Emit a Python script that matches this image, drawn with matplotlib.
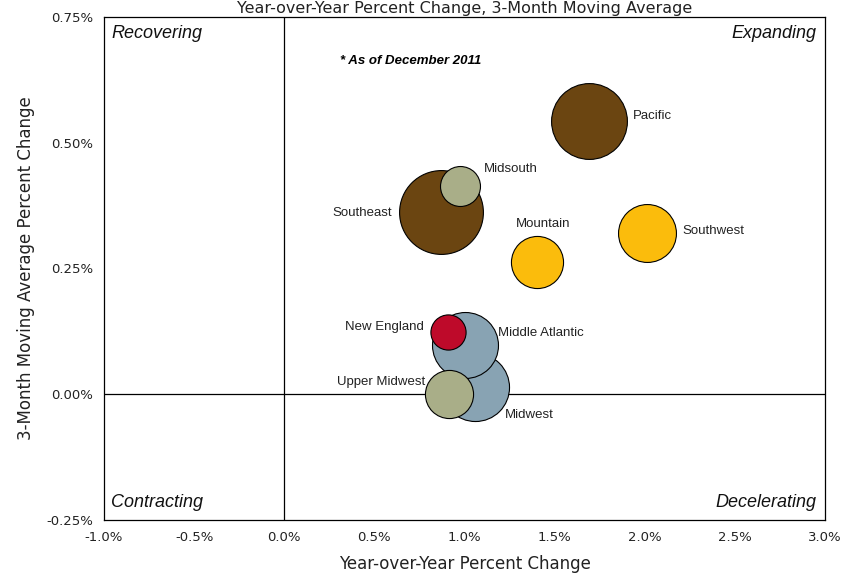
import matplotlib.pyplot as plt
from matplotlib.ticker import FuncFormatter

# regional data, as of December 2011
regions = ['Pacific', 'Southwest', 'Mountain', 'Southeast', 'Midsouth',
           'Middle Atlantic', 'Midwest', 'New England', 'Upper Midwest']
yoy_change = [1.69, 2.01, 1.40, 0.87, 0.975, 1.003, 1.06, 0.908, 0.914]
mavg_change = [0.543, 0.320, 0.262, 0.363, 0.415, 0.097, 0.014, 0.123, 0.000]
bubble_size = [14.4, 8.4, 6.8, 17.6, 4.0, 10.9, 11.6, 3.1, 5.8]

brown = '#6B4511'
gold = '#FBBC0C'
sage = '#A9AE88'
slate = '#88A3B3'
red = '#BE0A2A'
colors = [brown, gold, gold, brown, sage, slate, slate, red, sage]

# label offsets in points (dx, dy, horizontal alignment)
offsets = [(32, 4, 'left'), (26, 2, 'left'), (5, 28, 'center'),
           (-35, -1, 'right'), (17, 12, 'left'), (24, 9, 'left'),
           (21, -20, 'left'), (-17, 4, 'right'), (-17, 9, 'right')]

fig = plt.figure(figsize=(8.54, 5.75), dpi=100)
ax = fig.add_axes([0.1218, 0.0957, 0.8443, 0.8747])

# draw in this order so overlaps look like the original
order = [3, 4, 0, 1, 2, 6, 5, 8, 7]
for i in order:
    ax.scatter(yoy_change[i], mavg_change[i], s=bubble_size[i] * 207,
               color=colors[i], edgecolor='black', linewidth=0.8, zorder=3)

for i, name in enumerate(regions):
    dx, dy, ha = offsets[i]
    ax.annotate(name, (yoy_change[i], mavg_change[i]), xytext=(dx, dy),
                textcoords='offset points', ha=ha, va='center',
                fontsize=9.5, family='Liberation Sans', color='#222222', zorder=4)

ax.axhline(0, color='black', linewidth=0.9, zorder=1)
ax.axvline(0, color='black', linewidth=0.9, zorder=1)

ax.set_xlim(-1.0, 3.0)
ax.set_ylim(-0.25, 0.75)
ax.set_xticks([-1.0, -0.5, 0.0, 0.5, 1.0, 1.5, 2.0, 2.5, 3.0])
ax.set_yticks([-0.25, 0.0, 0.25, 0.5, 0.75])
ax.xaxis.set_major_formatter(FuncFormatter(lambda v, p: '%.1f%%' % v))
ax.yaxis.set_major_formatter(FuncFormatter(lambda v, p: '%.2f%%' % v))
ax.tick_params(length=0, labelsize=9.5, colors='#222222', pad=8)
for s in ax.spines.values():
    s.set_linewidth(0.9)

ax.set_xlabel('Year-over-Year Percent Change', fontsize=12, color='#222222', labelpad=8)
ax.set_ylabel('3-Month Moving Average Percent Change', fontsize=12, color='#222222', labelpad=8)

qfont = dict(fontsize=13, style='italic', family='Liberation Sans', color='#111111')
ax.text(0.01, 0.968, 'Recovering', transform=ax.transAxes, ha='left', va='center', **qfont)
ax.text(0.988, 0.968, 'Expanding', transform=ax.transAxes, ha='right', va='center', **qfont)
ax.text(0.01, 0.034, 'Contracting', transform=ax.transAxes, ha='left', va='center', **qfont)
ax.text(0.988, 0.034, 'Decelerating', transform=ax.transAxes, ha='right', va='center', **qfont)
ax.text(0.327, 0.912, '* As of December 2011', transform=ax.transAxes, ha='left',
        va='center', fontsize=9.5, style='italic', weight='bold', family='Liberation Sans')

fig.text(0.544, 0.977, 'Year-over-Year Percent Change, 3-Month Moving Average',
         ha='center', va='baseline', fontsize=11.5, color='#222222')

fig.savefig('out.png', dpi=100)
